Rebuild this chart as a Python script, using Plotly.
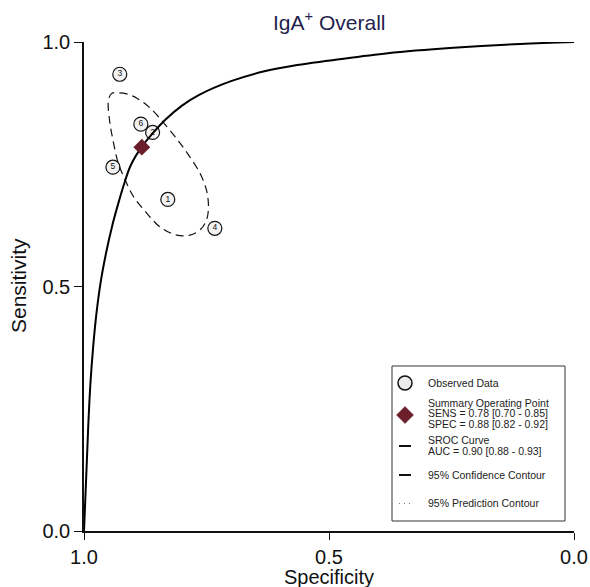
import plotly.graph_objects as go

# ---------------- data ----------------
study_ids = ["1", "2", "3", "4", "5", "6"]
study_spec = [0.829, 0.860, 0.927, 0.733, 0.941, 0.884]
study_sens = [0.678, 0.815, 0.934, 0.619, 0.744, 0.832]

summary_spec = [0.882]
summary_sens = [0.785]

sroc_spec = [1.000, 0.9955, 0.9915, 0.987, 0.981, 0.974, 0.965, 0.954, 0.942, 0.930,
             0.918, 0.905, 0.882, 0.860, 0.833, 0.800, 0.765, 0.700, 0.632, 0.565,
             0.498, 0.380, 0.246, 0.110, 0.000]
sroc_sens = [0.000, 0.110, 0.210, 0.300, 0.380, 0.450, 0.515, 0.573, 0.626, 0.670,
             0.710, 0.747, 0.786, 0.813, 0.842, 0.870, 0.892, 0.920, 0.940, 0.953,
             0.962, 0.977, 0.988, 0.996, 1.000]

conf_spec = [0.943, 0.927, 0.913, 0.892, 0.865, 0.831, 0.804, 0.784, 0.763, 0.750,
             0.746, 0.750, 0.763, 0.784, 0.811, 0.845, 0.872, 0.899, 0.916, 0.930,
             0.941, 0.948, 0.950, 0.943]
conf_sens = [0.895, 0.896, 0.894, 0.885, 0.865, 0.827, 0.793, 0.765, 0.731, 0.697,
             0.663, 0.636, 0.616, 0.605, 0.605, 0.622, 0.650, 0.684, 0.718, 0.752,
             0.800, 0.841, 0.882, 0.895]

x_ticks = [1.0, 0.5, 0.0]
x_tick_labels = ["1.0", "0.5", "0.0"]
y_ticks = [0.0, 0.5, 1.0]
y_tick_labels = ["0.0", "0.5", "1.0"]

legend_lines = [
    ("Observed Data", 383),
    ("Summary Operating Point", 402.5),
    ("SENS = 0.78 [0.70 - 0.85]", 413),
    ("SPEC = 0.88 [0.82 - 0.92]", 423.5),
    ("SROC Curve", 440),
    ("AUC = 0.90 [0.88 - 0.93]", 450.5),
    ("95% Confidence Contour", 475),
    ("95% Prediction Contour", 503),
]

# ---------------- layout geometry (pixels) ----------------
W, H = 590, 587
L, R, T, B = 84, 16, 42, 56
PW, PH = W - L - R, H - T - B
FONT = "Arial, Liberation Sans, Helvetica, sans-serif"
MAROON = "#6a1f2b"


def px(x):
    return (x - L) / PW


def py(y):
    return (H - B - y) / PH


fig = go.Figure()

fig.add_trace(go.Scatter(
    x=study_spec, y=study_sens, mode="markers+text", text=study_ids,
    textposition="middle center", textfont=dict(size=8.5, color="#111", family=FONT),
    marker=dict(symbol="circle", size=14, color="#f2f2f2",
                line=dict(color="#111", width=1.2)),
    showlegend=False, cliponaxis=False, hoverinfo="x+y"))

fig.add_trace(go.Scatter(
    x=conf_spec, y=conf_sens, mode="lines",
    line=dict(color="#111", width=1.2, dash="8px,5px", shape="spline", smoothing=1.0),
    showlegend=False))

fig.add_trace(go.Scatter(
    x=sroc_spec, y=sroc_sens, mode="lines",
    line=dict(color="#000", width=2, shape="spline", smoothing=1.0),
    showlegend=False, cliponaxis=False))

fig.add_trace(go.Scatter(
    x=summary_spec, y=summary_sens, mode="markers",
    marker=dict(symbol="diamond", size=13, color=MAROON, line=dict(width=0)),
    showlegend=False))

shapes = []
annotations = []

# legend box
shapes.append(dict(type="rect", xref="paper", yref="paper",
                   x0=px(392), x1=px(565), y0=py(521), y1=py(366),
                   line=dict(color="#333", width=1), fillcolor="white", layer="above"))
# legend icons
shapes.append(dict(type="circle", xref="paper", yref="paper",
                   x0=px(398), x1=px(412), y0=py(390), y1=py(376),
                   line=dict(color="#111", width=1.5), fillcolor="#ececec", layer="above"))
shapes.append(dict(type="path", xref="paper", yref="paper",
                   path="M {a},{b} L {c},{d} L {a},{e} L {f},{d} Z".format(
                       a=px(405), b=py(406.5), c=px(413.5), d=py(415),
                       e=py(423.5), f=px(396.5)),
                   line=dict(color=MAROON, width=0.5), fillcolor=MAROON, layer="above"))
shapes.append(dict(type="line", xref="paper", yref="paper",
                   x0=px(399), x1=px(411), y0=py(446), y1=py(446),
                   line=dict(color="#111", width=2), layer="above"))
shapes.append(dict(type="line", xref="paper", yref="paper",
                   x0=px(399), x1=px(411), y0=py(475), y1=py(475),
                   line=dict(color="#111", width=2), layer="above"))
shapes.append(dict(type="line", xref="paper", yref="paper",
                   x0=px(399), x1=px(412), y0=py(503.5), y1=py(503.5),
                   line=dict(color="#777", width=1, dash="1px,4px"), layer="above"))

for txt, yy in legend_lines:
    annotations.append(dict(text=txt, xref="paper", yref="paper", x=px(426), y=py(yy),
                            xanchor="left", yanchor="middle", showarrow=False,
                            font=dict(size=10.5, color="#222", family=FONT)))

# titles
annotations.append(dict(text="IgA<sup>+</sup> Overall", xref="paper", yref="paper",
                        x=0.5, y=py(21), xanchor="center", yanchor="middle",
                        showarrow=False, font=dict(size=21, color="#23234d", family=FONT)))
annotations.append(dict(text="Specificity", xref="paper", yref="paper",
                        x=0.5, y=py(577), xanchor="center", yanchor="middle",
                        showarrow=False, font=dict(size=20, color="#111", family=FONT)))
annotations.append(dict(text="Sensitivity", xref="paper", yref="paper",
                        x=px(18), y=py(286), xanchor="center", yanchor="middle",
                        textangle=-90, showarrow=False,
                        font=dict(size=21, color="#111", family=FONT)))

fig.update_layout(
    width=W, height=H,
    margin=dict(l=L, r=R, t=T, b=B, pad=0),
    paper_bgcolor="white", plot_bgcolor="white",
    shapes=shapes, annotations=annotations,
    showlegend=False,
    xaxis=dict(range=[1, 0], autorange=False, tickvals=x_ticks, ticktext=x_tick_labels,
               showgrid=False, zeroline=False, showline=True, linecolor="#111",
               linewidth=1.5, ticks="outside", ticklen=7, tickwidth=1.2, tickcolor="#111",
               tickfont=dict(size=20, color="#111", family=FONT), automargin=False),
    yaxis=dict(range=[0, 1], autorange=False, tickvals=y_ticks, ticktext=y_tick_labels,
               showgrid=False, zeroline=False, showline=True, linecolor="#111",
               linewidth=1.5, ticks="outside", ticklen=8, tickwidth=1.2, tickcolor="#111",
               tickfont=dict(size=20, color="#111", family=FONT), automargin=False),
)

fig.write_html(
    "out.html",
    config={"displayModeBar": False},
    post_script="document.body.style.margin='0';document.body.style.overflow='hidden';",
)
